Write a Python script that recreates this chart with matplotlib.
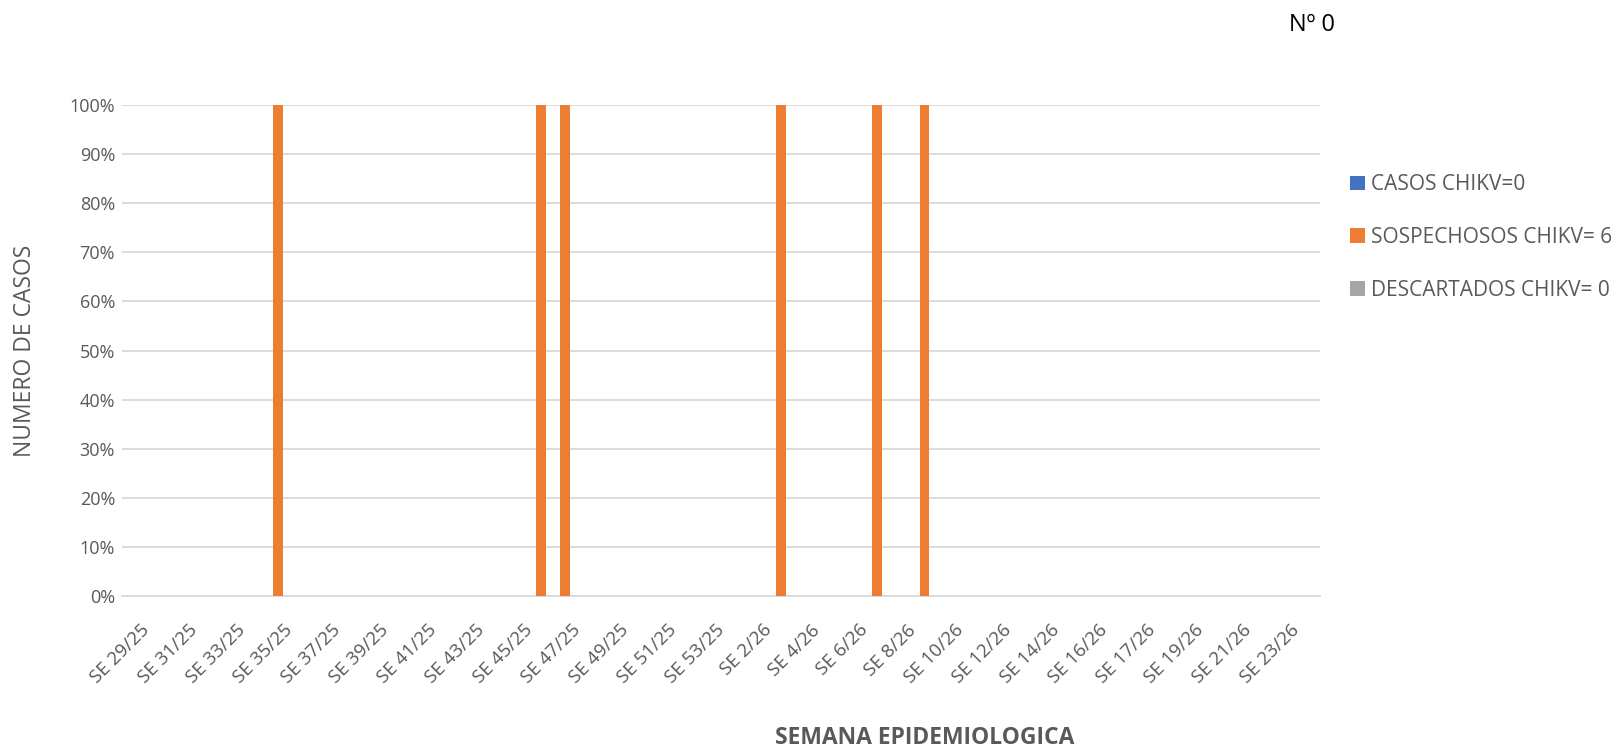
import numpy as np
import matplotlib
matplotlib.use("Agg")
import matplotlib.pyplot as plt
import matplotlib.transforms as mtrans
from matplotlib.ticker import PercentFormatter

plt.rcParams['font.family'] = ['Open Sans', 'DejaVu Sans']

# Weeks (one category per week, 16/26 appears twice in the source sheet)
semanas = ["SE %d/25" % w for w in range(29, 54)] + \
          ["SE %d/26" % w for w in range(1, 17)] + \
          ["SE 16/26"] + ["SE %d/26" % w for w in range(17, 25)]

casos = [0] * len(semanas)
descartados = [0] * len(semanas)
sospechosos = [0] * len(semanas)
for s in ["SE 35/25", "SE 46/25", "SE 47/25", "SE 3/26", "SE 7/26", "SE 9/26"]:
    sospechosos[semanas.index(s)] = 1

series_names = ["CASOS CHIKV=0", "SOSPECHOSOS CHIKV= 6", "DESCARTADOS CHIKV= 0"]
colors = ["#4472C4", "#ED7D31", "#A5A5A5"]

# 100% stacked
data = np.array([casos, sospechosos, descartados], dtype=float)
tot = data.sum(axis=0)
pct = np.divide(data, tot, out=np.zeros_like(data), where=tot > 0)

fig = plt.figure(figsize=(16.16, 7.47), dpi=100)
ax = fig.add_axes([0.0755, 0.2021, 0.7413, 0.6573])

x = np.arange(len(semanas))
bottom = np.zeros(len(semanas))
for vals, name, col in zip(pct, series_names, colors):
    ax.bar(x, vals, 0.4, bottom=bottom, color=col, label=name, zorder=3)
    bottom += vals

ax.set_xlim(-0.5, len(semanas) - 0.5)
ax.set_ylim(0, 1)
ax.set_yticks(np.arange(0, 1.01, 0.1))
ax.yaxis.set_major_formatter(PercentFormatter(1.0, decimals=0))
ax.set_xticks(x[::2])
ax.set_xticklabels(semanas[::2], rotation=45, ha='right', rotation_mode='anchor')
ax.tick_params(axis='y', length=0, labelsize=13, colors='#595959', pad=5)
ax.tick_params(axis='x', length=0, labelsize=13.5, colors='#595959', pad=18)
shift = mtrans.ScaledTranslation(6 / 100, 0, fig.dpi_scale_trans)
for lbl in ax.get_xticklabels():
    lbl.set_transform(lbl.get_transform() + shift)
ax.grid(axis='y', color='#D9D9D9', linewidth=1.3, zorder=0)
for sp in ['top', 'right', 'left']:
    ax.spines[sp].set_visible(False)
ax.spines['bottom'].set_color('#D9D9D9')
ax.spines['bottom'].set_linewidth(1.3)

ax.set_ylabel("NUMERO DE CASOS", fontsize=16.5, color='#595959')
ax.yaxis.set_label_coords(-0.071, 0.5)
fig.text(0.5725, 0.012, "SEMANA EPIDEMIOLOGICA", fontsize=16.5, fontweight='bold',
         color='#595959', ha='center', va='center')
fig.text(0.812, 0.967, "Nº 0", fontsize=17, color='black', ha='center', va='center')

ax.legend(loc='center left', bbox_to_anchor=(0.8305, 0.682), bbox_transform=fig.transFigure,
          frameon=False, fontsize=15, labelcolor='#595959', handlelength=0.7,
          handleheight=0.7, handletextpad=0.3, labelspacing=1.52, borderaxespad=0)

fig.savefig("out.png", dpi=100)
